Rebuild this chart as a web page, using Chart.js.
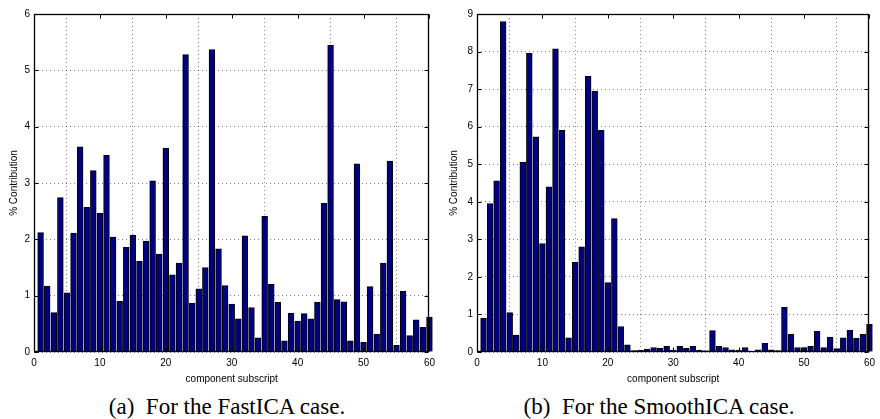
<!DOCTYPE html>
<html>
<head>
<meta charset="utf-8">
<script src="https://cdn.jsdelivr.net/npm/chart.js@4/dist/chart.umd.min.js"></script>
<style>
  html, body { margin: 0; padding: 0; background: #fff; }
  #wrap { position: relative; width: 880px; height: 419px; overflow: hidden; }
  canvas { position: absolute; top: 0; }
  .cap { position: absolute; font-family: "Liberation Serif", "Times New Roman", serif; font-size: 23px; line-height: 23px; color: #000; white-space: nowrap; transform: translateX(-50%); top: 395px; }
</style>
</head>
<body>
<div id="wrap">
  <canvas id="c1" width="440" height="390" style="left:0px"></canvas>
  <canvas id="c2" width="440" height="390" style="left:440px"></canvas>
  <div class="cap" style="left:227px">(a)&nbsp; For the FastICA case.</div>
  <div class="cap" style="left:659px">(b)&nbsp; For the SmoothICA case.</div>
</div>
<script>
// component subscripts 1..60
const components = Array.from({length: 60}, (_, i) => i + 1);

// % contribution, FastICA case
const fastICA = [
  2.12, 1.17, 0.70, 2.74, 1.05, 2.11, 3.64, 2.57, 3.22, 2.46,
  3.49, 2.04, 0.90, 1.86, 2.07, 1.61, 1.97, 3.04, 1.74, 3.62,
  1.37, 1.58, 5.28, 0.87, 1.12, 1.50, 5.37, 1.83, 1.18, 0.85,
  0.59, 2.06, 0.79, 0.25, 2.41, 1.20, 0.88, 0.20, 0.69, 0.55,
  0.68, 0.59, 0.88, 2.64, 5.45, 0.93, 0.89, 0.20, 3.34, 0.17,
  1.16, 0.32, 1.58, 3.39, 0.12, 1.08, 0.29, 0.57, 0.44, 0.62
];

// % contribution, SmoothICA case
const smoothICA = [
  0.90, 3.95, 4.56, 8.80, 1.05, 0.45, 5.06, 7.95, 5.73, 2.89,
  4.40, 8.07, 5.90, 0.38, 2.39, 2.80, 7.34, 6.95, 5.90, 1.85,
  3.55, 0.68, 0.19, 0.04, 0.05, 0.08, 0.12, 0.10, 0.15, 0.05,
  0.15, 0.10, 0.15, 0.05, 0.03, 0.57, 0.15, 0.12, 0.06, 0.05,
  0.12, 0.02, 0.06, 0.23, 0.06, 0.04, 1.19, 0.47, 0.12, 0.12,
  0.15, 0.55, 0.12, 0.40, 0.09, 0.38, 0.58, 0.37, 0.47, 0.74
];

const xTicks = [0, 10, 20, 30, 40, 50, 60];
const yTicksA = [0, 1, 2, 3, 4, 5, 6];
const yTicksB = [0, 1, 2, 3, 4, 5, 6, 7, 8, 9];

const tickFont = { family: "'Liberation Sans', Arial, sans-serif", size: 10 };
const titleFont = { family: "'Liberation Sans', Arial, sans-serif", size: 10 };

const framePlugin = {
  id: 'frame',
  afterDatasetsDraw(chart) {
    const ctx = chart.ctx;
    const a = chart.chartArea;
    const L = Math.round(a.left) + 0.5, R = Math.round(a.right) - 0.5;
    const T = Math.round(a.top) + 0.5, B = Math.round(a.bottom) - 0.5;
    ctx.save();
    ctx.strokeStyle = '#000';
    ctx.lineWidth = 1;
    ctx.setLineDash([]);
    ctx.beginPath();
    const xs = chart.scales.x, ys = chart.scales.y;
    const tl = 4;
    xs.ticks.forEach(t => {
      const px = Math.round(xs.getPixelForValue(t.value)) + 0.5;
      ctx.moveTo(px, B); ctx.lineTo(px, B - tl);
      ctx.moveTo(px, T); ctx.lineTo(px, T + tl);
    });
    ys.ticks.forEach(t => {
      const py = Math.round(ys.getPixelForValue(t.value)) + 0.5;
      ctx.moveTo(L, py); ctx.lineTo(L + tl, py);
      ctx.moveTo(R, py); ctx.lineTo(R - tl, py);
    });
    ctx.stroke();
    ctx.lineWidth = 1.3;
    ctx.strokeRect(L, T, R - L, B - T);
    ctx.restore();
  }
};

function makeChart(id, values, yMax, yTickVals, padLeft, padRight) {
  const pts = components.map((c, i) => ({ x: c, y: values[i] }));
  return new Chart(document.getElementById(id), {
    type: 'bar',
    data: {
      datasets: [{
        data: pts,
        backgroundColor: '#000080',
        borderColor: '#000000',
        borderWidth: 1,
        borderSkipped: 'start',
        barThickness: 5.8,
        clip: false
      }]
    },
    options: {
      responsive: false,
      animation: false,
      devicePixelRatio: 1,
      layout: { autoPadding: false, padding: { top: 14, right: padRight, left: 0, bottom: 0 } },
      plugins: { legend: { display: false }, tooltip: { enabled: false } },
      scales: {
        x: {
          type: 'linear',
          min: 0, max: 60,
          offset: false,
          afterFit: s => { s.height = 38; },
          afterBuildTicks: s => { s.ticks = xTicks.map(v => ({ value: v })); },
          ticks: { font: tickFont, color: '#000', padding: 5, maxRotation: 0, autoSkip: false },
          grid: { color: 'rgba(0,0,0,0.5)', lineWidth: 1, drawTicks: false },
          border: { display: false, dash: [1, 3] },
          title: { display: true, text: 'component subscript', font: titleFont, color: '#000', padding: { top: 2, bottom: 5 } }
        },
        y: {
          type: 'linear',
          min: 0, max: yMax,
          afterFit: s => { s.width = padLeft; },
          afterBuildTicks: s => { s.ticks = yTickVals.map(v => ({ value: v })); },
          ticks: { font: tickFont, color: '#000', padding: 4 },
          grid: { color: 'rgba(0,0,0,0.5)', lineWidth: 1, drawTicks: false },
          border: { display: false, dash: [1, 3] },
          title: { display: true, text: '% Contribution', font: titleFont, color: '#000', padding: { top: 8, bottom: 0 } }
        }
      }
    },
    plugins: [framePlugin]
  });
}

makeChart('c1', fastICA, 6, yTicksA, 34, 7);
makeChart('c2', smoothICA, 9, yTicksB, 37, 3);
</script>
</body>
</html>
